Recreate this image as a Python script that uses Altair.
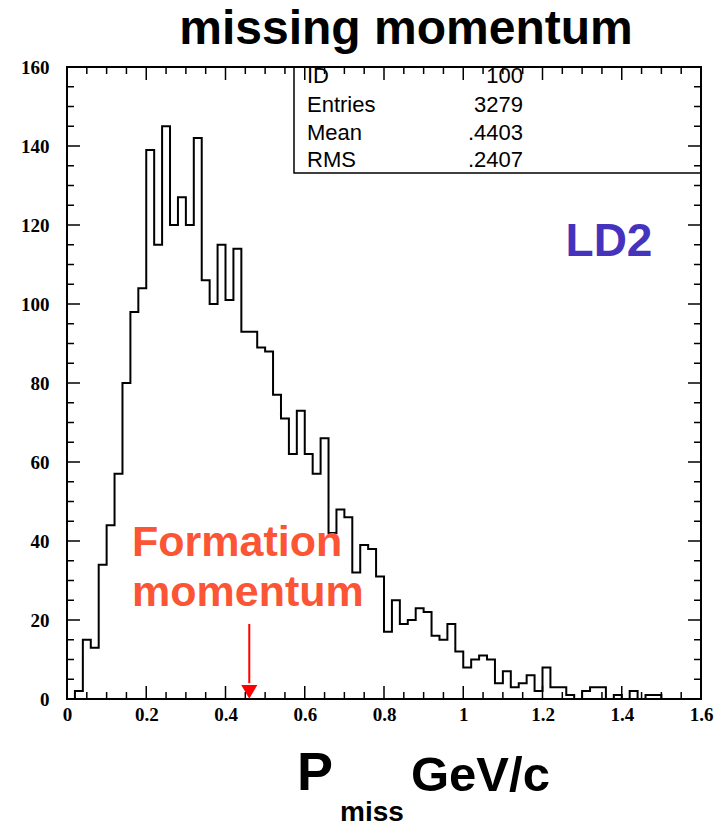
import altair as alt
import pandas as pd

# Missing-momentum histogram: 80 bins of 0.02 GeV/c from 0 to 1.6
BIN_WIDTH = 0.02
counts = [
    0, 2, 15, 13, 34, 44, 57, 80, 98, 104,
    139, 115, 145, 120, 127, 120, 142, 106, 100, 115,
    101, 114, 93, 93, 89, 88, 77, 71, 62, 73,
    62, 57, 66, 42, 48, 46, 32, 39, 38, 31,
    17, 25, 19, 20, 23, 22, 16, 15, 19, 12,
    8, 10, 11, 10, 4, 7, 3, 4, 6, 2,
    8, 3, 3, 1, 0, 2, 3, 3, 0, 1,
    0, 2, 0, 1, 1, 0, 0, 0, 0, 0,
]

# Statistics box rows
stat_names = ["ID", "Entries", "Mean", "RMS"]
stat_values = ["100", "3279", ".4403", ".2407"]

# Axis ticks
x_major = [0, 0.2, 0.4, 0.6, 0.8, 1.0, 1.2, 1.4, 1.6]
x_minor = [0.05, 0.1, 0.15, 0.25, 0.3, 0.35, 0.45, 0.5, 0.55, 0.65, 0.7, 0.75,
           0.85, 0.9, 0.95, 1.05, 1.1, 1.15, 1.25, 1.3, 1.35, 1.45, 1.5, 1.55]
y_major = [0, 20, 40, 60, 80, 100, 120, 140, 160]
y_minor = [5, 10, 15, 25, 30, 35, 45, 50, 55, 65, 70, 75, 85, 90, 95,
           105, 110, 115, 125, 130, 135, 145, 150, 155]

# Formation momentum marker
formation_p = 0.46
arrow_top = 19
arrow_bottom = 4
arrow_head = 1.8

W, H = 634, 632
MAJOR_LEN, MINOR_LEN = 13, 7

edges = [round(i * BIN_WIDTH, 2) for i in range(len(counts) + 1)]
hist_df = pd.DataFrame({"x": edges, "y": counts + [counts[-1]]})

x_scale = alt.Scale(domain=[0, 1.6], nice=False, zero=False)
y_scale = alt.Scale(domain=[0, 160], nice=False, zero=False)

label_style = dict(
    labelFont="Liberation Serif", labelFontWeight="bold", labelFontSize=19,
    labelColor="black", ticks=False, domain=False, grid=False, title=None,
    labelOverlap=False, labelFlush=False,
)
x_axis = alt.Axis(values=x_major, format="~g", labelPadding=6, **label_style)
y_axis = alt.Axis(values=y_major, format="d", labelPadding=18, **label_style)


def X(field="x"):
    return alt.X(f"{field}:Q", scale=x_scale, axis=x_axis)


def Y(field="y"):
    return alt.Y(f"{field}:Q", scale=y_scale, axis=y_axis)


hist = alt.Chart(hist_df).mark_line(
    interpolate="step-after", color="black", strokeWidth=2
).encode(x=X(), y=Y())

# Inward ticks on all four sides of the frame
tick_layers = []
for vals, length in [(x_major, MAJOR_LEN), (x_minor, MINOR_LEN)]:
    df = pd.DataFrame({"x": vals})
    for y0, y1 in [(H, H - length), (0, length)]:
        tick_layers.append(
            alt.Chart(df).mark_rule(color="black", strokeWidth=1.5).encode(
                x=X(), y=alt.value(y0), y2=alt.value(y1)
            )
        )
for vals, length in [(y_major, MAJOR_LEN), (y_minor, MINOR_LEN)]:
    df = pd.DataFrame({"y": vals})
    for x0, x1 in [(0, length), (W, W - length)]:
        tick_layers.append(
            alt.Chart(df).mark_rule(color="black", strokeWidth=1.5).encode(
                y=Y(), x=alt.value(x0), x2=alt.value(x1)
            )
        )

one = pd.DataFrame({"k": [0]})

# Statistics box
stat_box = alt.Chart(one).mark_rect(
    fillOpacity=0, stroke="black", strokeWidth=1.5
).encode(x=alt.value(227), x2=alt.value(W), y=alt.value(0), y2=alt.value(106))

stat_layers = []
row_y = [9, 38, 66, 93]
for name, val, yy in zip(stat_names, stat_values, row_y):
    row = pd.DataFrame({"name": [name], "val": [val]})
    stat_layers.append(
        alt.Chart(row).mark_text(
            align="left", baseline="middle", font="Liberation Sans",
            fontSize=22, color="black"
        ).encode(x=alt.value(240), y=alt.value(yy), text="name:N")
    )
    stat_layers.append(
        alt.Chart(row).mark_text(
            align="right", baseline="middle", font="Liberation Sans",
            fontSize=22, color="black"
        ).encode(x=alt.value(456), y=alt.value(yy), text="val:N")
    )


def label(text, x, y, size, color="black", align="left"):
    return alt.Chart(pd.DataFrame({"t": [text]})).mark_text(
        align=align, baseline="alphabetic", font="Liberation Sans",
        fontWeight="bold", fontSize=size, color=color
    ).encode(x=alt.value(x), y=alt.value(y), text="t:N")


title = label("missing momentum", 339, -23, 48, align="center")
ld2 = label("LD2", 542, 189, 46, color="#4633bd", align="center")
form1 = label("Formation", 65, 489, 43, color="#fc5535")
form2 = label("momentum", 65, 539, 43, color="#fc5535")
xt_p = label("P", 230, 723, 54)
xt_sub = label("miss", 273, 754, 28)
xt_unit = label("GeV/c", 344, 724, 49)

# Arrow pointing at the formation momentum
arrow_df = pd.DataFrame({"x": [formation_p], "y": [arrow_top], "y2": [arrow_bottom]})
arrow_line = alt.Chart(arrow_df).mark_rule(color="#ff0000", strokeWidth=2).encode(
    x=X(), y=Y(), y2="y2:Q"
)
head_df = pd.DataFrame({"x": [formation_p], "y": [arrow_head]})
arrow_headmark = alt.Chart(head_df).mark_point(
    shape="triangle-down", filled=True, size=260, color="#ff0000", opacity=1
).encode(x=X(), y=Y())

chart = alt.layer(
    hist, *tick_layers, stat_box, *stat_layers, arrow_line, arrow_headmark,
    title, ld2, form1, form2, xt_p, xt_sub, xt_unit,
).properties(
    width=W, height=H,
    autosize=alt.AutoSizeParams(type="none"),
    padding={"left": 67, "top": 67, "right": 15, "bottom": 130},
    background="white",
).configure_view(stroke="black", strokeWidth=2)

chart.save("out.html", embed_options={"renderer": "svg", "actions": False})
